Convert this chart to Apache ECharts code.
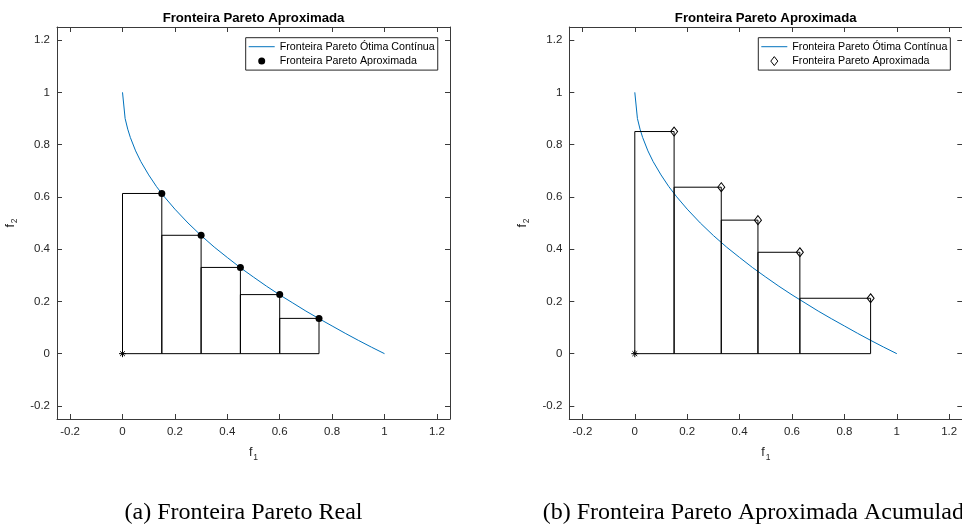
<!DOCTYPE html>
<html>
<head>
<meta charset="utf-8">
<script src="https://cdn.jsdelivr.net/npm/echarts@6/dist/echarts.min.js"></script>
<style>
  html, body { margin: 0; padding: 0; background: #fff; }
  #wrap { position: relative; width: 962px; height: 528px; overflow: hidden; }
  .panel { position: absolute; top: 0; width: 481px; height: 528px; }
  #chartA { left: 0; }
  #chartB { left: 481px; }
</style>
</head>
<body>
<div id="wrap">
  <div id="chartA" class="panel"></div>
  <div id="chartB" class="panel"></div>
</div>
<script>
// Continuous optimal Pareto front (f1, f2)
const curveX = [0, 0.01, 0.02, 0.03, 0.05, 0.07, 0.1, 0.13, 0.16, 0.2, 0.25, 0.3, 0.35,
                0.4, 0.45, 0.5, 0.55, 0.6, 0.65, 0.7, 0.75, 0.8, 0.85, 0.9, 0.95, 1];
const curveY = [1, 0.9, 0.859, 0.827, 0.776, 0.735, 0.684, 0.639, 0.6, 0.553, 0.5, 0.452, 0.408,
                0.368, 0.329, 0.293, 0.258, 0.225, 0.194, 0.163, 0.134, 0.106, 0.078, 0.051, 0.025, 0];

// (a) approximated points lying on the real front
const realX = [0.15, 0.3, 0.45, 0.6, 0.75];
const realY = [0.613, 0.453, 0.33, 0.226, 0.135];

// (b) accumulated approximated front
const accX = [0.15, 0.33, 0.47, 0.63, 0.9];
const accY = [0.85, 0.637, 0.511, 0.388, 0.212];

// reference (ideal) point
const refPoint = [0, 0];

// axis ticks, shared by both axes
const tickValues = [-0.2, 0, 0.2, 0.4, 0.6, 0.8, 1, 1.2];
const axisMin = -0.25;
const axisMax = 1.25;

const seriesNames = ['Fronteira Pareto Ótima Contínua', 'Fronteira Pareto Aproximada'];
const plotTitle = 'Fronteira Pareto Aproximada';

const SANS = '"Liberation Sans", Arial, Helvetica, sans-serif';
const SERIF = '"Liberation Serif", "Times New Roman", serif';
const AXIS_COLOR = '#3a3a3a';
const LABEL_COLOR = '#262626';
const CURVE_COLOR = '#0072BD';

const ASTERISK = 'path://M0,5 L10,5 M5,0 L5,10 M1.6,1.6 L8.4,8.4 M8.4,1.6 L1.6,8.4';
const DIAMOND = 'path://M3.5,0 L7,4.5 L3.5,9 L0,4.5 Z';
const LEGEND_LINE = 'path://M0,0 L26,0 L26,1 L0,1 Z';

function zip(xs, ys) {
  return xs.map((x, i) => [x, ys[i]]);
}

// Rectangles spanned by consecutive points down to f2 = 0
function boxes(xs, ys) {
  return xs.map((x, i) => [i === 0 ? refPoint[0] : xs[i - 1], x, ys[i]]);
}

function valueAxis(position, withLabels, nameText, rotateName) {
  const ax = {
    type: 'value',
    position: position,
    min: axisMin,
    max: axisMax,
    axisLine: { show: true, onZero: false, lineStyle: { color: AXIS_COLOR, width: 1 } },
    axisTick: { show: true, inside: true, length: 5, customValues: tickValues,
                lineStyle: { color: AXIS_COLOR, width: 1 } },
    axisLabel: { show: withLabels, customValues: tickValues, margin: 7,
                 color: LABEL_COLOR, fontSize: 11.5, fontFamily: SANS },
    splitLine: { show: false },
    splitArea: { show: false }
  };
  if (nameText) {
    ax.name = nameText;
    ax.nameLocation = 'middle';
    ax.nameGap = rotateName ? 31 : 25;
    ax.nameRotate = rotateName ? 90 : 0;
    ax.nameTextStyle = {
      color: LABEL_COLOR,
      fontFamily: SANS,
      fontSize: 12,
      rich: {
        f: { fontSize: 12.5, fontFamily: SANS, color: LABEL_COLOR },
        s: { fontSize: 8.5, fontFamily: SANS, color: LABEL_COLOR, padding: [9, 0, 0, 1] }
      }
    };
  }
  return ax;
}

function buildOption(cfg) {
  return {
    animation: false,
    backgroundColor: '#fff',
    grid: {
      left: cfg.gridLeft, top: 27, width: 393, height: 392,
      containLabel: false, outerBoundsMode: 'none',
      show: false
    },
    xAxis: [
      valueAxis('bottom', true, '{f|f}{s|1}', false),
      valueAxis('top', false)
    ],
    yAxis: [
      valueAxis('left', true, '{f|f}{s|2}', true),
      valueAxis('right', false)
    ],
    legend: {
      show: true,
      data: [
        { name: seriesNames[0], icon: LEGEND_LINE, itemStyle: { color: CURVE_COLOR } },
        { name: seriesNames[1], itemStyle: cfg.legendMarkerStyle }
      ],
      orient: 'vertical',
      align: 'left',
      left: cfg.legendLeft,
      top: 37.7,
      itemWidth: 26,
      itemHeight: cfg.legendIconHeight,
      itemGap: 2.4,
      padding: [3, 3, 3, 3],
      borderColor: '#262626',
      borderWidth: 1,
      borderRadius: 0,
      backgroundColor: '#fff',
      selectedMode: false,
      textStyle: { color: '#000', fontFamily: SANS, fontSize: 10.7, lineHeight: 12 }
    },
    graphic: [
      {
        type: 'text', x: cfg.titleX, y: 18, silent: true,
        style: { text: plotTitle, fill: '#000', fontFamily: SANS, fontWeight: 'bold',
                 fontSize: 13.2, align: 'center', verticalAlign: 'middle' }
      },
      {
        type: 'text', x: cfg.captionX, y: 513, silent: true,
        style: { text: cfg.caption, fill: '#000', fontFamily: SERIF,
                 fontSize: 24, align: cfg.captionAlign, verticalAlign: 'middle' }
      }
    ],
    series: [
      {
        name: seriesNames[0],
        type: 'line',
        data: zip(curveX, curveY),
        symbol: 'none',
        smooth: false,
        lineStyle: { color: CURVE_COLOR, width: 1 },
        itemStyle: { color: CURVE_COLOR },
        z: 2
      },
      {
        name: 'boxes',
        type: 'custom',
        data: boxes(cfg.px, cfg.py),
        encode: { x: [0, 1], y: 2 },
        renderItem: function (params, api) {
          const p0 = api.coord([api.value(0), 0]);
          const p1 = api.coord([api.value(1), api.value(2)]);
          return {
            type: 'rect',
            shape: { x: p0[0], y: p1[1], width: p1[0] - p0[0], height: p0[1] - p1[1] },
            style: { fill: 'none', stroke: '#000', lineWidth: 1 }
          };
        },
        silent: true,
        z: 3
      },
      {
        name: seriesNames[1],
        type: 'scatter',
        data: zip(cfg.px, cfg.py),
        symbol: cfg.symbol,
        symbolSize: cfg.symbolSize,
        itemStyle: cfg.markerStyle,
        z: 4
      },
      {
        name: 'ref',
        type: 'scatter',
        data: [refPoint],
        symbol: ASTERISK,
        symbolSize: 7,
        itemStyle: { color: 'transparent', borderColor: '#000', borderWidth: 1, opacity: 1 },
        z: 5
      }
    ]
  };
}

const chartA = echarts.init(document.getElementById('chartA'), null, { renderer: 'canvas' });
chartA.setOption(buildOption({
  gridLeft: 57,
  legendLeft: 245.7,
  legendIconHeight: 7,
  titleX: 253.5,
  captionX: 243.5,
  captionAlign: 'center',
  caption: '(a) Fronteira Pareto Real',
  px: realX,
  py: realY,
  symbol: 'circle',
  symbolSize: 7,
  markerStyle: { color: '#000', borderColor: '#000', borderWidth: 0, opacity: 1 },
  legendMarkerStyle: { color: '#000', borderWidth: 0, opacity: 1 }
}));

const chartB = echarts.init(document.getElementById('chartB'), null, { renderer: 'canvas' });
chartB.setOption(buildOption({
  gridLeft: 88.3,
  legendLeft: 277.3,
  legendIconHeight: 9,
  titleX: 284.7,
  captionX: 61.7,
  captionAlign: 'left',
  caption: '(b) Fronteira Pareto Aproximada Acumulada',
  px: accX,
  py: accY,
  symbol: DIAMOND,
  symbolSize: [7, 9],
  markerStyle: { color: 'transparent', borderColor: '#000', borderWidth: 1, opacity: 1 },
  legendMarkerStyle: { color: 'transparent', borderColor: '#000', borderWidth: 1, opacity: 1 }
}));
</script>
</body>
</html>
